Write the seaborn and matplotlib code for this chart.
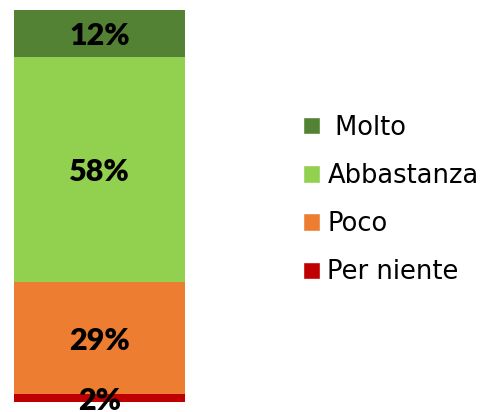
import matplotlib
matplotlib.use("Agg")
import matplotlib.pyplot as plt
from matplotlib.patches import Patch
from matplotlib.transforms import offset_copy
import seaborn as sns
import pandas as pd
import numpy as np

# Response shares, stacked bottom to top
categories = ["Per niente", "Poco", "Abbastanza", "Molto"]
values = [2, 29, 58, 12]
labels = ["2%", "29%", "58%", "12%"]
legend_labels = [" Molto", "Abbastanza", "Poco", "Per niente"]
colors = ["#C00000", "#ED7D31", "#92D050", "#548235"]

sns.set_theme(style="white")
plt.rcParams["font.family"] = ["DejaVu Sans"]

fig = plt.figure(figsize=(4.9, 4.12), dpi=100)
ax = fig.add_axes([14 / 490, 10 / 412, 171 / 490, 392 / 412])

tops = np.cumsum(values)
bottoms = tops - np.array(values)
df = pd.DataFrame({"grp": ["all"] * len(values), "cat": categories,
                   "top": tops, "bottom": bottoms})

# Draw tallest cumulative bar first so each lower segment overlays it
for i in range(len(values) - 1, -1, -1):
    sns.barplot(data=df.iloc[[i]], x="grp", y="top", color=colors[i],
                width=1.0, saturation=1, ax=ax, edgecolor="none")

label_tr = offset_copy(ax.transData, fig=fig, x=0, y=-3, units="dots")
for i in range(len(values)):
    ax.text(0, bottoms[i] + values[i] / 2, labels[i], ha="center",
            va="center", fontsize=22, fontweight="heavy", color="black",
            family=["Lato", "DejaVu Sans"], transform=label_tr,
            clip_on=False)

ax.set_xlim(-0.5, 0.5)
ax.set_ylim(0, tops[-1])
ax.set_xlabel("")
ax.set_ylabel("")
ax.set_xticks([])
ax.set_yticks([])
for s in ax.spines.values():
    s.set_visible(False)

handles = [Patch(facecolor=colors[3 - k]) for k in range(4)]
leg = fig.legend(handles, legend_labels, loc="center left",
                 bbox_to_anchor=(303 / 490, 212 / 412), frameon=False,
                 borderpad=0, borderaxespad=0,
                 fontsize=18.5, handlelength=0.65, handleheight=0.65,
                 handletextpad=0.3, labelspacing=0.86)
for t in leg.get_texts():
    t.set_color("black")

fig.savefig("out.png", dpi=100)
